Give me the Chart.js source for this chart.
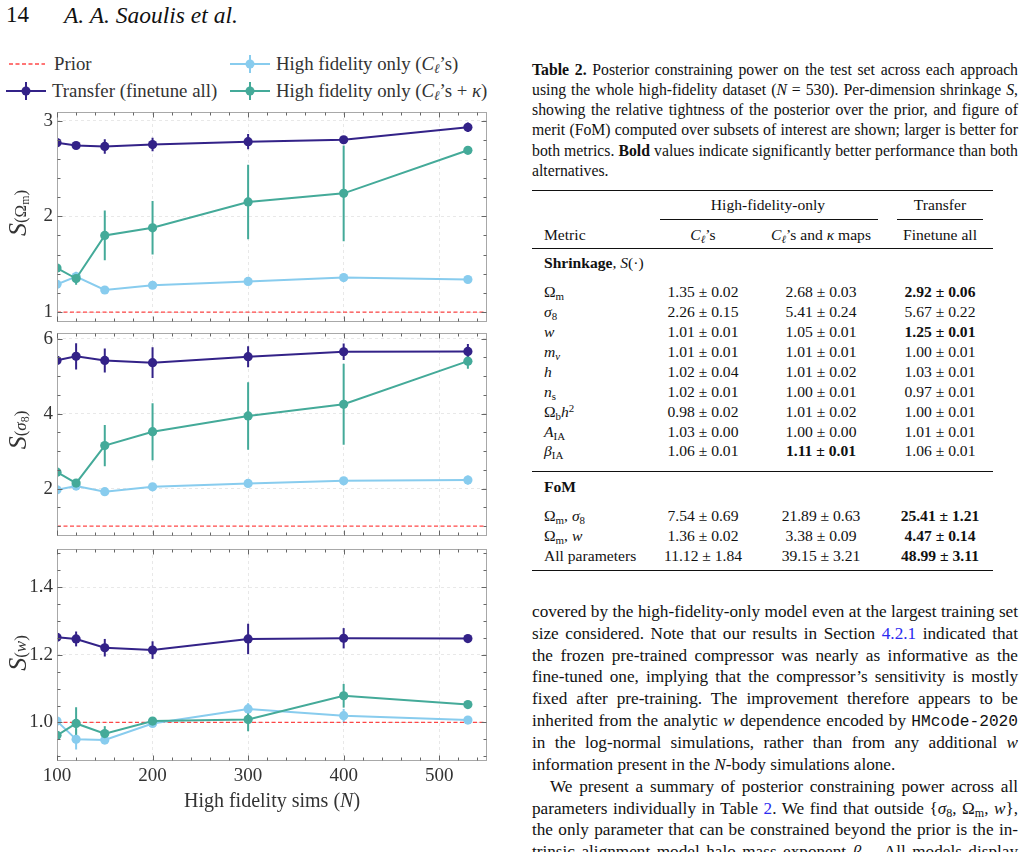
<!DOCTYPE html>
<html>
<head>
<meta charset="utf-8">
<script src="https://cdn.jsdelivr.net/npm/chart.js@4.4.1/dist/chart.umd.min.js"></script>
<style>
body { margin:0; width:1026px; height:852px; overflow:hidden; background:#fff; position:relative;
       font-family:"Liberation Serif", serif; color:#111; }
.a { position:absolute; white-space:nowrap; }
canvas { position:absolute; left:0; }
sub { font-size:70%; vertical-align:-0.25em; line-height:0; }
sup { font-size:70%; vertical-align:0.45em; line-height:0; }
.leg { position:absolute; font-size:18.8px; color:#333; line-height:20px; white-space:nowrap; }
.ylab { position:absolute; transform:translate(-50%,-50%) rotate(-90deg); color:#333; white-space:nowrap; font-size:17px; }
.ylab i.s { font-size:26px; }
.rule { position:absolute; background:#111; }
.cap div, .body div { position:absolute; left:532px; width:486px; text-align:justify; text-align-last:justify; white-space:nowrap; }
.cap div { font-size:14.6px; line-height:20px; }
.body div { font-size:16px; line-height:22px; }
.cap div.last, .body div.last, .measure div { text-align-last:left !important; }
.tb { position:absolute; font-size:15.6px; line-height:20px; white-space:nowrap; }
a { color:#2a2af0; text-decoration:none; }
tt { font-family:"Liberation Mono", monospace; font-size:0.94em; }
</style>
</head>
<body>

<div class="a" style="left:6px;top:2px;font-size:23px;">14</div>
<div class="a" style="left:64px;top:2px;font-size:23.5px;font-style:italic;">A. A. Saoulis et al.</div>

<!-- legend -->
<svg class="a" style="left:0;top:50px" width="300" height="55">
  <line x1="9" y1="14" x2="45" y2="14" stroke="rgba(255,40,40,0.85)" stroke-width="1.3" stroke-dasharray="4 2.5"/>
  <line x1="6" y1="41" x2="46" y2="41" stroke="#332288" stroke-width="2"/>
  <line x1="26" y1="32" x2="26" y2="50" stroke="#332288" stroke-width="2"/>
  <circle cx="26" cy="41" r="4.5" fill="#332288"/>
  <line x1="230" y1="14" x2="270" y2="14" stroke="#88CCEE" stroke-width="2"/>
  <line x1="250" y1="5" x2="250" y2="23" stroke="#88CCEE" stroke-width="2"/>
  <circle cx="250" cy="14" r="4.5" fill="#88CCEE"/>
  <line x1="230" y1="41" x2="270" y2="41" stroke="#44AA99" stroke-width="2"/>
  <line x1="250" y1="32" x2="250" y2="50" stroke="#44AA99" stroke-width="2"/>
  <circle cx="250" cy="41" r="4.5" fill="#44AA99"/>
</svg>
<div class="leg" style="left:54px;top:54px">Prior</div>
<div class="leg" style="left:52px;top:81px">Transfer (finetune all)</div>
<div class="leg" style="left:276px;top:54px">High fidelity only (<i>C</i><sub><i>ℓ</i></sub>’s)</div>
<div class="leg" style="left:276px;top:81px">High fidelity only (<i>C</i><sub><i>ℓ</i></sub>’s + <i>κ</i>)</div>

<canvas id="c1" width="500" height="241" style="top:96px"></canvas>
<canvas id="c2" width="500" height="234" style="top:317px"></canvas>
<canvas id="c3" width="500" height="274" style="top:533px"></canvas>

<div class="ylab" style="left:18px;top:213px"><i class="s">S</i>(Ω<sub>m</sub>)</div>
<div class="ylab" style="left:18px;top:430px"><i class="s">S</i>(<i>σ</i><sub>8</sub>)</div>
<div class="ylab" style="left:18px;top:653px"><i class="s">S</i>(<i>w</i>)</div>
<div class="a" style="left:272px;top:800px;transform:translate(-50%,-50%);font-size:20px;color:#333">High fidelity sims (<i>N</i>)</div>

<!-- caption -->
<div class="cap">
  <div style="top:60px"><b>Table 2.</b> Posterior constraining power on the test set across each approach</div>
  <div style="top:80px">using the whole high-fidelity dataset (<i>N</i> = 530). Per-dimension shrinkage <i>S</i>,</div>
  <div style="top:100px">showing the relative tightness of the posterior over the prior, and figure of</div>
  <div style="top:120px">merit (FoM) computed over subsets of interest are shown; larger is better for</div>
  <div style="top:141px">both metrics. <b>Bold</b> values indicate significantly better performance than both</div>
  <div class="last" style="top:161px">alternatives.</div>
</div>

<div id="table"></div>

<div class="body">
  <div style="top:601px">covered by the high-fidelity-only model even at the largest training set</div>
  <div style="top:623px">size considered. Note that our results in Section <a>4.2.1</a> indicated that</div>
  <div style="top:645px">the frozen pre-trained compressor was nearly as informative as the</div>
  <div style="top:666px">fine-tuned one, implying that the compressor’s sensitivity is mostly</div>
  <div style="top:688px">fixed after pre-training. The improvement therefore appears to be</div>
  <div style="top:710px">inherited from the analytic <i>w</i> dependence encoded by <tt>HMcode-2020</tt></div>
  <div style="top:732px">in the log-normal simulations, rather than from any additional <i>w</i></div>
  <div class="last" style="top:754px">information present in the <i>N</i>-body simulations alone.</div>
  <div style="top:776px;left:550px;width:468px">We present a summary of posterior constraining power across all</div>
  <div style="top:798px">parameters individually in Table <a>2</a>. We find that outside {<i>σ</i><sub>8</sub>, Ω<sub>m</sub>, <i>w</i>},</div>
  <div style="top:819px">the only parameter that can be constrained beyond the prior is the in-</div>
  <div style="top:841px">trinsic alignment model halo mass exponent <i>β</i><sub>IA</sub>. All models display</div>
</div>

<script>
// high fidelity training set sizes
const N = [100, 120, 150, 200, 300, 400, 530];
const priorX = [100, 550];
const priorY = [1, 1];

// S(Omega_m)
const omTransfer    = [2.77, 2.74, 2.73, 2.75, 2.78, 2.80, 2.93];
const omTransferErr = [0.05, 0.02, 0.075, 0.07, 0.08, 0.03, 0.05];
const omKappa       = [1.46, 1.35, 1.80, 1.88, 2.15, 2.24, 2.69];
const omKappaErr    = [0.05, 0.065, 0.26, 0.28, 0.39, 0.50, 0.03];
const omCl          = [1.29, 1.37, 1.23, 1.28, 1.32, 1.36, 1.34];
const omClErr       = [0.02, 0.05, 0.02, 0.02, 0.02, 0.02, 0.02];

// S(sigma_8)
const s8Transfer    = [5.42, 5.53, 5.42, 5.36, 5.52, 5.65, 5.66];
const s8TransferErr = [0.42, 0.35, 0.32, 0.41, 0.28, 0.22, 0.20];
const s8Kappa       = [2.44, 2.15, 3.15, 3.52, 3.94, 4.25, 5.40];
const s8KappaErr    = [0.12, 0.05, 0.55, 0.76, 0.90, 1.08, 0.20];
const s8Cl          = [1.97, 2.07, 1.92, 2.05, 2.14, 2.21, 2.23];
const s8ClErr       = [0.04, 0.06, 0.03, 0.03, 0.03, 0.03, 0.12];

// S(w)
const wTransfer    = [1.252, 1.247, 1.221, 1.214, 1.247, 1.249, 1.248];
const wTransferErr = [0.033, 0.022, 0.026, 0.026, 0.045, 0.030, 0.004];
const wKappa       = [0.962, 0.997, 0.967, 1.004, 1.009, 1.079, 1.053];
const wKappaErr    = [0.040, 0.048, 0.022, 0.006, 0.035, 0.035, 0.004];
const wCl          = [1.004, 0.950, 0.948, 0.997, 1.040, 1.020, 1.007];
const wClErr       = [0.015, 0.030, 0.008, 0.008, 0.017, 0.020, 0.006];

// tick labels
const xTicks  = [100, 200, 300, 400, 500];
const omTicks = [1, 2, 3];
const s8Ticks = [2, 4, 6];
const wTicks  = [1.0, 1.2, 1.4];

const INDIGO = '#332288', TEAL = '#44AA99', LBLUE = '#88CCEE';
const FONT = 'Liberation Serif';

function pts(ys) { return N.map((x, i) => ({x: x, y: ys[i]})); }

// error bars, frame and inward ticks
const decor = {
  id: 'decor',
  beforeDatasetsDraw(chart) {
    const {ctx, chartArea: a, scales: {x, y}} = chart;
    ctx.save();
    ctx.beginPath();
    ctx.rect(a.left, a.top, a.width, a.height);
    ctx.clip();
    ctx.lineWidth = 2;
    chart.data.datasets.forEach(ds => {
      if (!ds.err) return;
      ctx.strokeStyle = ds.borderColor;
      ds.data.forEach((p, j) => {
        const px = x.getPixelForValue(p.x);
        ctx.beginPath();
        ctx.moveTo(px, y.getPixelForValue(p.y - ds.err[j]));
        ctx.lineTo(px, y.getPixelForValue(p.y + ds.err[j]));
        ctx.stroke();
      });
    });
    ctx.restore();
  },
  afterDraw(chart) {
    const {ctx, chartArea: a, scales: {x, y}} = chart;
    const o = chart.options.plugins.decor;
    ctx.save();
    ctx.strokeStyle = '#a8a8a8';
    ctx.lineWidth = 1;
    const L = Math.round(a.left) + 0.5, T = Math.round(a.top) + 0.5;
    const R = Math.round(a.right) - 0.5, B = Math.round(a.bottom) - 0.5;
    ctx.strokeRect(L, T, R - L, B - T);
    ctx.strokeStyle = '#666';
    function seg(x1, y1, x2, y2) { ctx.beginPath(); ctx.moveTo(x1, y1); ctx.lineTo(x2, y2); ctx.stroke(); }
    for (let k = Math.ceil(x.min / o.xMinor); k * o.xMinor <= x.max; k++) {
      const v = k * o.xMinor;
      const len = xTicks.includes(v) ? 5 : 3;
      const px = Math.round(x.getPixelForValue(v)) + 0.5;
      seg(px, B, px, B - len);
      seg(px, T, px, T + len);
    }
    for (let k = Math.ceil(y.min / o.yMinor - 1e-6); k * o.yMinor <= y.max + 1e-9; k++) {
      const v = k * o.yMinor;
      const len = o.yTicks.some(t => Math.abs(t - v) < 1e-6) ? 5 : 3;
      const py = Math.round(y.getPixelForValue(v)) + 0.5;
      seg(L, py, L + len, py);
      seg(R, py, R - len, py);
    }
    ctx.restore();
  }
};

// area = wanted chart area in page pixels
function panel(id, area, cl, clErr, kappa, kappaErr, transfer, transferErr, yMin, yMax, yTicks, yMinor, fmt, showX) {
  const grid = {color: '#e2e2e2', lineWidth: 0.8, drawTicks: false};
  const border = {display: false, dash: [3, 3]};
  const tickFont = {family: FONT, size: 19};
  const line = (label, data, err, color, order) => ({
    label: label, data: pts(data), err: err, borderColor: color, backgroundColor: color,
    borderWidth: 2, pointRadius: 4.6, pointBorderWidth: 0, pointBackgroundColor: color,
    clip: 0, order: order
  });
  const canvas = document.getElementById(id);
  const chart = new Chart(canvas, {
    type: 'line',
    data: {
      datasets: [
        {label: 'Prior', data: priorX.map((x, i) => ({x: x, y: priorY[i]})),
         borderColor: 'rgba(255,40,40,0.85)', borderWidth: 1.3, borderDash: [4, 2.5],
         pointRadius: 0, clip: 0, order: 4},
        line('High fidelity only (Cl)', cl, clErr, LBLUE, 3),
        line('High fidelity only (Cl + kappa)', kappa, kappaErr, TEAL, 2),
        line('Transfer (finetune all)', transfer, transferErr, INDIGO, 1)
      ]
    },
    options: {
      responsive: false,
      animation: false,
      layout: {padding: {top: 16, right: 13, left: 0, bottom: showX ? 0 : 14}},
      plugins: {legend: {display: false}, tooltip: {enabled: false},
                decor: {xMinor: 20, yMinor: yMinor, yTicks: yTicks}},
      scales: {
        x: {
          type: 'linear', min: 100, max: 550,
          afterBuildTicks: s => { s.ticks = xTicks.map(v => ({value: v})); },
          afterFit: s => { s.height = showX ? 40 : 0; },
          grid: grid, border: border,
          ticks: {display: showX, padding: 4, color: '#333', font: tickFont, maxRotation: 0}
        },
        y: {
          type: 'linear', min: yMin, max: yMax,
          afterBuildTicks: s => { s.ticks = yTicks.map(v => ({value: v})); },
          afterFit: s => { s.width = 57; },
          grid: grid, border: border,
          ticks: {padding: 4, color: '#333', font: tickFont, callback: v => fmt(v)}
        }
      }
    },
    plugins: [decor]
  });
  // nudge the layout padding until the plot area sits where the figure has it
  const top0 = parseFloat(canvas.style.top);
  for (let it = 0; it < 4; it++) {
    const a = chart.chartArea, p = chart.options.layout.padding;
    const dt = (area.top - top0) - a.top, db = a.bottom - (area.bottom - top0);
    const dl = area.left - a.left, dr = a.right - area.right;
    if (Math.abs(dt) + Math.abs(db) + Math.abs(dl) + Math.abs(dr) < 0.3) break;
    p.top += dt; p.bottom += db; p.left += dl; p.right += dr;
    chart.update();
  }
  return chart;
}

panel('c1', {left: 57, right: 487, top: 112, bottom: 323},
      omCl, omClErr, omKappa, omKappaErr, omTransfer, omTransferErr,
      0.9, 3.09, omTicks, 0.2, v => String(v), false);
panel('c2', {left: 57, right: 487, top: 333, bottom: 537},
      s8Cl, s8ClErr, s8Kappa, s8KappaErr, s8Transfer, s8TransferErr,
      0.75, 6.15, s8Ticks, 0.5, v => String(v), false);
panel('c3', {left: 57, right: 487, top: 549, bottom: 761},
      wCl, wClErr, wKappa, wKappaErr, wTransfer, wTransferErr,
      0.886, 1.513, wTicks, 0.05, v => v.toFixed(1), true);

// table 2
const C1 = 703, C2 = 821, C3 = 940;
const rows = [
  [205, [[768, 'High-fidelity-only'], [C3, 'Transfer']]],
  [235, [[0, 'Metric'], [C1, '<i>C</i><sub><i>ℓ</i></sub>’s'], [C2, '<i>C</i><sub><i>ℓ</i></sub>’s and <i>κ</i> maps'], [C3, 'Finetune all']]],
  [263, [[0, '<b>Shrinkage</b>, <i>S</i>(·)']]],
  [292, [[0, 'Ω<sub>m</sub>'], [C1, '1.35 ± 0.02'], [C2, '2.68 ± 0.03'], [C3, '<b>2.92 ± 0.06</b>']]],
  [312, [[0, '<i>σ</i><sub>8</sub>'], [C1, '2.26 ± 0.15'], [C2, '5.41 ± 0.24'], [C3, '5.67 ± 0.22']]],
  [332, [[0, '<i>w</i>'], [C1, '1.01 ± 0.01'], [C2, '1.05 ± 0.01'], [C3, '<b>1.25 ± 0.01</b>']]],
  [352, [[0, '<i>m</i><sub><i>ν</i></sub>'], [C1, '1.01 ± 0.01'], [C2, '1.01 ± 0.01'], [C3, '1.00 ± 0.01']]],
  [372, [[0, '<i>h</i>'], [C1, '1.02 ± 0.04'], [C2, '1.01 ± 0.02'], [C3, '1.03 ± 0.01']]],
  [392, [[0, '<i>n</i><sub>s</sub>'], [C1, '1.02 ± 0.01'], [C2, '1.00 ± 0.01'], [C3, '0.97 ± 0.01']]],
  [412, [[0, 'Ω<sub>b</sub><i>h</i><sup>2</sup>'], [C1, '0.98 ± 0.02'], [C2, '1.01 ± 0.02'], [C3, '1.00 ± 0.01']]],
  [432, [[0, '<i>A</i><sub>IA</sub>'], [C1, '1.03 ± 0.00'], [C2, '1.00 ± 0.00'], [C3, '1.01 ± 0.01']]],
  [451, [[0, '<i>β</i><sub>IA</sub>'], [C1, '1.06 ± 0.01'], [C2, '<b>1.11 ± 0.01</b>'], [C3, '1.06 ± 0.01']]],
  [487, [[0, '<b>FoM</b>']]],
  [516, [[0, 'Ω<sub>m</sub>, <i>σ</i><sub>8</sub>'], [C1, '7.54 ± 0.69'], [C2, '21.89 ± 0.63'], [C3, '<b>25.41 ± 1.21</b>']]],
  [536, [[0, 'Ω<sub>m</sub>, <i>w</i>'], [C1, '1.36 ± 0.02'], [C2, '3.38 ± 0.09'], [C3, '<b>4.47 ± 0.14</b>']]],
  [556, [[0, 'All parameters'], [C1, '11.12 ± 1.84'], [C2, '39.15 ± 3.21'], [C3, '<b>48.99 ± 3.11</b>']]]
];
const rules = [[190, 532, 993, 1.3], [219, 660, 878, 0.8], [219, 897, 983, 0.8],
               [248, 532, 993, 0.8], [471, 532, 993, 0.8], [570, 532, 993, 1.3]];
let html = '';
rows.forEach(([yc, cells]) => {
  cells.forEach(([cx, t]) => {
    if (cx === 0) html += `<div class="tb" style="left:544px;top:${yc - 10}px">${t}</div>`;
    else html += `<div class="tb" style="left:${cx - 90}px;width:180px;text-align:center;top:${yc - 10}px">${t}</div>`;
  });
});
rules.forEach(([y, x1, x2, h]) => {
  html += `<div class="rule" style="left:${x1}px;width:${x2 - x1}px;top:${y}px;height:${h}px"></div>`;
});
document.getElementById('table').innerHTML = html;

// size the justified text so its tightest line just fills the column
function fitLines(sel) {
  const box = document.querySelector(sel);
  const lines = Array.from(box.querySelectorAll('div'));
  lines.forEach(d => { d.innerHTML = '<span>' + d.innerHTML + '</span>'; });
  box.classList.add('measure');
  const size = parseFloat(getComputedStyle(lines[0]).fontSize);
  let ratio = 10;
  lines.forEach(d => {
    if (d.classList.contains('last')) return;
    const w = d.firstChild.getBoundingClientRect().width;
    ratio = Math.min(ratio, d.clientWidth / w);
  });
  box.classList.remove('measure');
  lines.forEach(d => { d.style.fontSize = (size * ratio * 0.998) + 'px'; });
}
fitLines('.cap');
fitLines('.body');
</script>
</body>
</html>
